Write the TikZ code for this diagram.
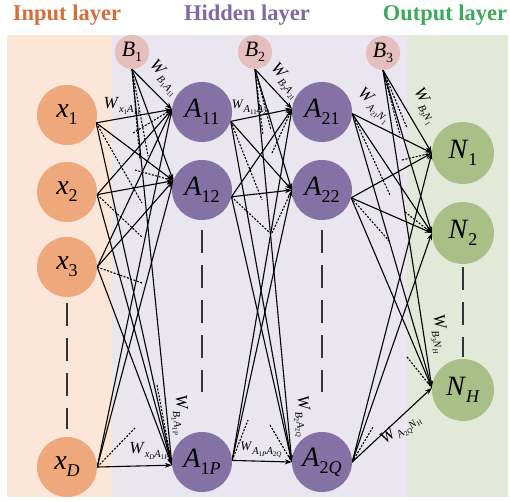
\documentclass[tikz,border=0pt]{standalone}
\usepackage{fontspec}
\setmainfont{Liberation Serif}
\usetikzlibrary{arrows.meta,calc}
\pgfdeclarelayer{bg}
\pgfsetlayers{bg,main}
\definecolor{inC}{HTML}{EFA77C}
\definecolor{hidC}{HTML}{8472A4}
\definecolor{outC}{HTML}{A8C087}
\definecolor{biasC}{HTML}{E6BEBE}
\definecolor{inBand}{HTML}{FBE6D8}
\definecolor{hidBand}{HTML}{E9E6EF}
\definecolor{outBand}{HTML}{E2E9D9}
\definecolor{inT}{HTML}{D66E38}
\definecolor{hidT}{HTML}{7D69A5}
\definecolor{outT}{HTML}{3EA85C}
\newcommand{\nsub}[2]{\textit{#1}\raisebox{-7pt}{\fontsize{18}{18}\selectfont #2}}
\newcommand{\bsub}[2]{\textit{#1}\raisebox{-5pt}{\fontsize{14}{14}\selectfont #2}}
\newcommand{\wl}[1]{\textit{W}\raisebox{-4.5pt}{\fontsize{10.5}{10.5}\selectfont #1}}
\newcommand{\sbs}[1]{\raisebox{-2pt}{\fontsize{7}{7}\selectfont #1}}
\tikzset{
  neuron/.style={circle, inner sep=0pt, minimum size=60pt, font=\fontsize{28}{28}\selectfont},
  inN/.style={neuron, fill=inC},
  hidN/.style={neuron, fill=hidC},
  outN/.style={neuron, fill=outC, minimum size=62pt},
  biasN/.style={circle, inner sep=0pt, minimum size=34pt, fill=biasC, font=\fontsize{22}{22}\selectfont},
  conn/.style={line width=1.1pt, -{Stealth[length=7pt,width=5pt]}},
  dconn/.style={line width=1.1pt, dash pattern=on 2pt off 1.5pt},
  wlab/.style={font=\fontsize{17}{17}\selectfont, inner sep=0pt},
  swlab/.style={font=\fontsize{13}{13}\selectfont, inner sep=0pt},
  colgap/.style={line width=1.8pt, draw=black!80, dash pattern=on 23pt off 12pt},
  title/.style={font=\bfseries\fontsize{22.5}{22.5}\selectfont, anchor=base}
}
\begin{document}
\begin{tikzpicture}[x=1pt,y=-1pt]
\useasboundingbox (0,0) rectangle (510,501);
% titles
\node[title, text=inT] (tin) at (67,20) {Input layer};
\node[title, text=hidT] (thid) at (247,20) {Hidden layer};
\node[title, text=outT] (tout) at (445,20) {Output layer};
% nodes
\node[inN] (x1) at (67,115) {\nsub{x}{1}};
\node[inN] (x2) at (67,192) {\nsub{x}{2}};
\node[inN] (x3) at (67,267) {\nsub{x}{3}};
\node[inN] (xD) at (67,467) {\nsub{x}{\textit{D}}};
\node[biasN] (B1) at (132,52) {\bsub{B}{1}};
\node[biasN] (B2) at (255,52) {\bsub{B}{2}};
\node[biasN] (B3) at (383,53) {\bsub{B}{3}};
\node[hidN] (A11) at (202,112) {\nsub{A}{11}};
\node[hidN] (A12) at (202,190) {\nsub{A}{12}};
\node[hidN] (A1P) at (202,462) {\nsub{A}{1\textit{P}}};
\node[hidN] (A21) at (322,112) {\nsub{A}{21}};
\node[hidN] (A22) at (322,190) {\nsub{A}{22}};
\node[hidN] (A2Q) at (322,462) {\nsub{A}{2\textit{Q}}};
\node[outN] (N1) at (463,153) {\nsub{N}{1}};
\node[outN] (N2) at (463,233) {\nsub{N}{2}};
\node[outN] (NH) at (463,390) {\nsub{N}{\textit{H}}};
% free ends of short dashed connectors
\coordinate (d1a) at (142,203);
\coordinate (d1b) at (142,237);
\coordinate (d1c) at (142,283);
\coordinate (d1d) at (135,428);
\coordinate (d1e) at (133,133);
\coordinate (d1f) at (135,170);
\coordinate (d1g) at (157,385);
\coordinate (d1h) at (140,160);
\coordinate (d1i) at (148,156);
\coordinate (d2a) at (262,200);
\coordinate (d2b) at (270,233);
\coordinate (d2c) at (248,420);
\coordinate (d2d) at (272,153);
\coordinate (d2e) at (272,233);
\coordinate (d2f) at (270,425);
\coordinate (d2g) at (263,135);
\coordinate (d2h) at (271,130);
\coordinate (d3a) at (390,195);
\coordinate (d3b) at (390,242);
\coordinate (d3c) at (373,427);
\coordinate (d3d) at (402,160);
\coordinate (d3e) at (405,212);
\coordinate (d3f) at (407,357);
\coordinate (d3g) at (400,135);
\coordinate (d3h) at (407,128);
\begin{pgfonlayer}{bg}
  \fill[inBand] (7,35) rectangle (112,497);
  \fill[hidBand] (112,35) rectangle (407,497);
  \fill[outBand] (407,35) rectangle (508,497);
  % layer 1
  \foreach \s in {x1.-15, x2.-5, x3.0, xD.0, B1.south}
    \foreach \t in {A11.175, A12.162, A1P.-174}
      \draw[conn] (\s) -- (\t);
  \draw[dconn] (x1.-15) -- (d1a);
  \draw[dconn] (x2.-5) -- (d1b);
  \draw[dconn] (x3.0) -- (d1c);
  \draw[dconn] (xD.0) -- (d1d);
  \draw[dconn] (d1e) -- (A11.175);
  \draw[dconn] (d1f) -- (A12.162);
  \draw[dconn] (d1g) -- (A1P.-174);
  \draw[dconn] (B1.south) -- (d1h);
  \draw[dconn] (B1.south) -- (d1i);
  % layer 2
  \foreach \s in {A11.-18, A12.-13, A1P.3, B2.south}
    \foreach \t in {A21.174, A22.180, A2Q.180}
      \draw[conn] (\s) -- (\t);
  \draw[dconn] (A11.-18) -- (d2a);
  \draw[dconn] (A12.-13) -- (d2b);
  \draw[dconn] (A1P.3) -- (d2c);
  \draw[dconn] (d2d) -- (A21.174);
  \draw[dconn] (d2e) -- (A22.180);
  \draw[dconn] (d2f) -- (A2Q.180);
  \draw[dconn] (B2.south) -- (d2g);
  \draw[dconn] (B2.south) -- (d2h);
  % layer 3
  \foreach \s in {A21.-3, A22.-15, A2Q.0, B3.south}
    \foreach \t in {N1.180, N2.180, NH.176}
      \draw[conn] (\s) -- (\t);
  \draw[dconn] (A21.-3) -- (d3a);
  \draw[dconn] (A22.-15) -- (d3b);
  \draw[dconn] (A2Q.0) -- (d3c);
  \draw[dconn] (d3d) -- (N1.180);
  \draw[dconn] (d3e) -- (N2.180);
  \draw[dconn] (d3f) -- (NH.176);
  \draw[dconn] (B3.south) -- (d3g);
  \draw[dconn] (B3.south) -- (d3h);
\end{pgfonlayer}
% omitted-neuron columns
\draw[colgap] ($(x3.south)+(0,6)$) -- ($(xD.north)+(0,-8)$);
\draw[colgap] ($(A12.south)+(0,10)$) -- ($(A1P.north)+(0,-40)$);
\draw[colgap] ($(A22.south)+(0,10)$) -- ($(A2Q.north)+(0,-40)$);
\draw[colgap] ($(N2.south)+(0,3)$) -- ($(NH.north)+(0,-2)$);
% weight labels
\node[wlab] (w1) at (122,106) {\wl{\textit{x}\sbs{1}\textit{A}\sbs{11}}};
\node[wlab, rotate=-47] (w2) at (164,78) {\wl{\textit{B}\sbs{1}\textit{A}\sbs{11}}};
\node[swlab] (w3) at (251,107) {\wl{\textit{A}\sbs{11}\textit{A}\sbs{21}}};
\node[wlab, rotate=-48] (w4) at (285,81) {\wl{\textit{B}\sbs{2}\textit{A}\sbs{21}}};
\node[wlab, rotate=-40] (w5) at (374,106) {\wl{\textit{A}\sbs{21}\textit{N}\sbs{1}}};
\node[wlab, rotate=-60] (w6) at (425,106) {\wl{\textit{B}\sbs{3}\textit{N}\sbs{1}}};
\node[wlab, rotate=-84] (w7) at (180,415) {\wl{\textit{B}\sbs{1}\textit{A}\sbs{1\textit{P}}}};
\node[wlab] (w8) at (149,451) {\wl{\textit{x}\sbs{\textit{D}}\textit{A}\sbs{1\textit{P}}}};
\node[wlab, rotate=-82] (w9) at (302,416) {\wl{\textit{B}\sbs{2}\textit{A}\sbs{2\textit{Q}}}};
\node[swlab] (w10) at (261,450) {\wl{\textit{A}\sbs{1\textit{P}}\textit{A}\sbs{2\textit{Q}}}};
\node[wlab, rotate=-80] (w11) at (439,334) {\wl{\textit{B}\sbs{3}\textit{N}\sbs{\textit{H}}}};
\node[wlab, rotate=38] (w12) at (401,430) {\wl{\textit{A}\sbs{2\textit{Q}}\textit{N}\sbs{\textit{H}}}};
\end{tikzpicture}
\end{document}
